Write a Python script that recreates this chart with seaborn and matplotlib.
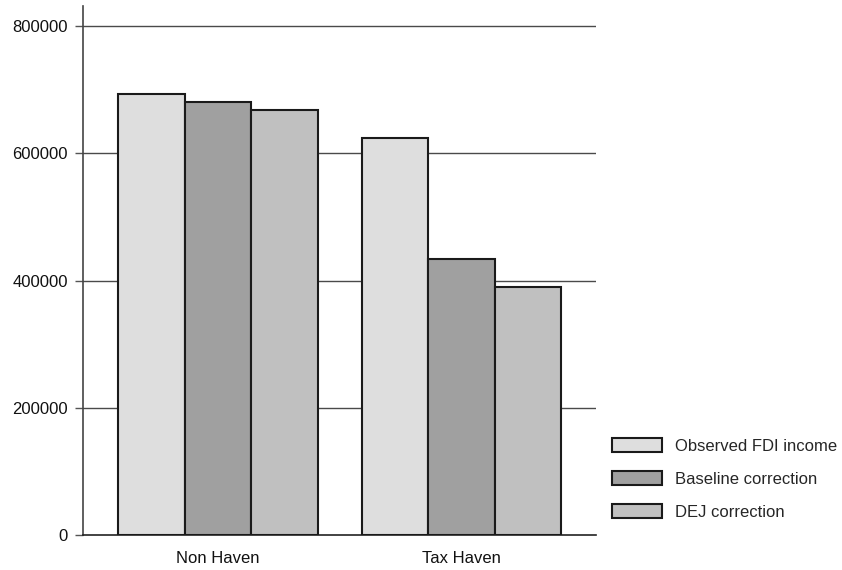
import matplotlib
matplotlib.use("Agg")
import matplotlib.pyplot as plt
import pandas as pd
import seaborn as sns

# Data
categories = ["Non Haven", "Tax Haven"]
series = ["Observed FDI income", "Baseline correction", "DEJ correction"]
observed = [693000, 624500]
baseline = [681000, 433500]
dej = [668500, 390000]
y_ticks = [0, 200000, 400000, 600000, 800000]

colors = ["#dedede", "#a0a0a0", "#c0c0c0"]

df = pd.DataFrame({
    "group": categories * 3,
    "series": [series[0]] * 2 + [series[1]] * 2 + [series[2]] * 2,
    "value": observed + baseline + dej,
})

sns.set_style("white")
plt.rcParams["font.family"] = ["Liberation Sans", "DejaVu Sans"]

fig = plt.figure(figsize=(8.42, 5.70), dpi=100)
ax = fig.add_axes([83 / 842, 35 / 570, (596 - 83) / 842, (535 - 5.7) / 570])

sns.barplot(data=df, x="group", y="value", hue="series", hue_order=series,
            order=categories, palette=colors, width=0.82, gap=0,
            edgecolor="#1a1a1a", linewidth=1.5, errorbar=None, ax=ax,
            zorder=3)

ax.set_xlim(-0.554, 1.552)
ax.set_ylim(0, 832000)
ax.set_yticks(y_ticks)
ax.set_yticklabels([str(t) for t in y_ticks])

# horizontal gridlines
for t in y_ticks[1:]:
    ax.axhline(t, color="#4a4a4a", lw=1.0, zorder=1)

for s in ["top", "right"]:
    ax.spines[s].set_visible(False)
ax.spines["left"].set_color("#444444")
ax.spines["left"].set_linewidth(1.2)
ax.spines["bottom"].set_color("#222222")
ax.spines["bottom"].set_linewidth(1.2)

ax.tick_params(axis="y", which="both", left=True, length=6, width=1.0,
               color="#555555", pad=5, labelsize=12, labelcolor="#111111")
ax.tick_params(axis="x", bottom=False, pad=8, labelsize=12, labelcolor="#111111")
ax.set_xlabel("")
ax.set_ylabel("")

handles, labels = ax.get_legend_handles_labels()
ax.get_legend().remove()
fig.legend(handles, labels, loc="center left",
           bbox_to_anchor=(612 / 842, (570 - 479) / 570),
           frameon=False, fontsize=12, borderpad=0, borderaxespad=0,
           handlelength=3.0, handleheight=0.85, handletextpad=0.8,
           labelspacing=1.05)

fig.savefig("out.png", dpi=100)
